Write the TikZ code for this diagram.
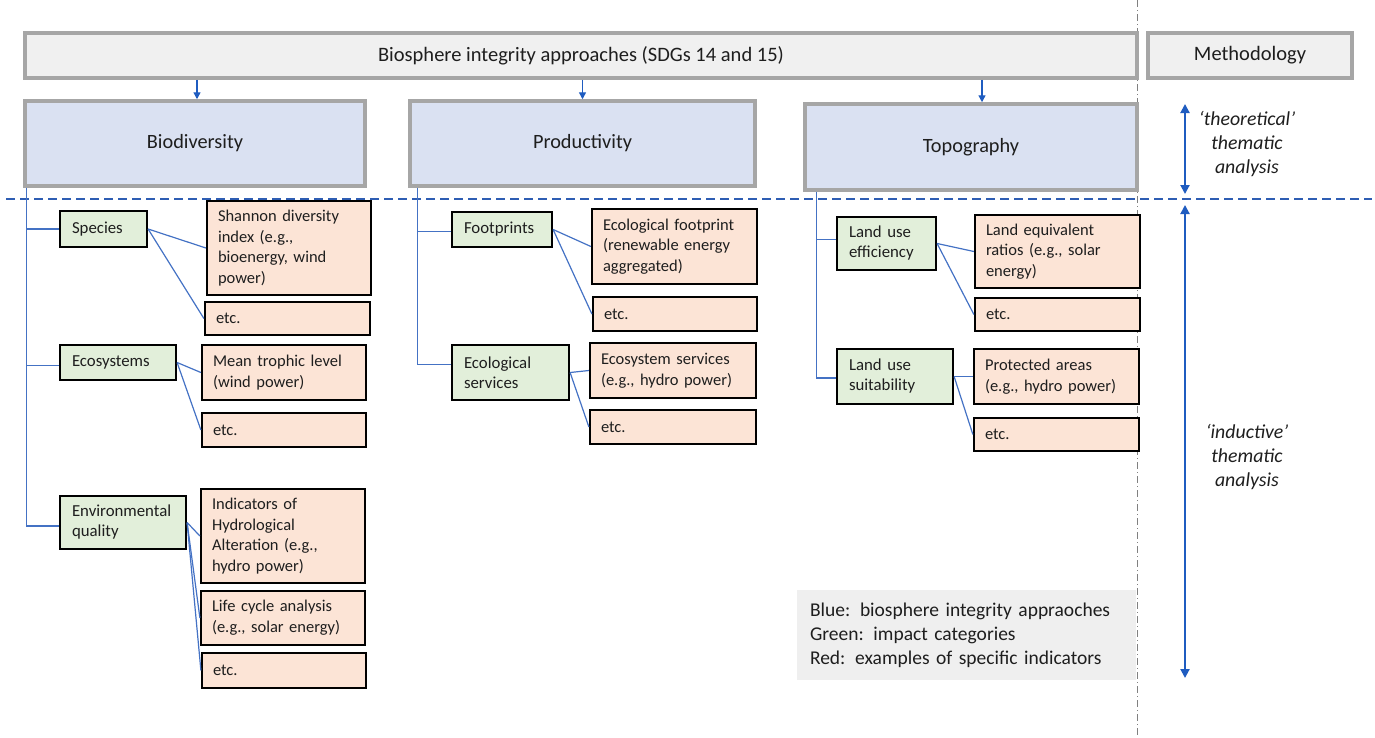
\documentclass[tikz,border=0pt]{standalone}
\usepackage{fontspec}
\setmainfont{Carlito}
\usetikzlibrary{arrows.meta}
\definecolor{grayb}{HTML}{A6A6A6}
\definecolor{hdrfill}{HTML}{F0F0F0}
\definecolor{bluefill}{HTML}{DAE1F2}
\definecolor{greenfill}{HTML}{E2EFDA}
\definecolor{redfill}{HTML}{FCE4D6}
\definecolor{conblue}{HTML}{4472C4}
\definecolor{arrblue}{HTML}{1F5CC0}
\definecolor{dashblue}{HTML}{2E5DB3}
\definecolor{legfill}{HTML}{EFEFEF}
\definecolor{txt}{HTML}{1E1E1E}
\tikzset{
  hdrbox/.style={draw=grayb, line width=3.5pt, fill=hdrfill, text=txt, font=\fontsize{20.5}{24}\selectfont, inner sep=0pt},
  bluebox/.style={draw=grayb, line width=3.5pt, fill=bluefill, text=txt, font=\fontsize{20.3}{24}\selectfont, inner sep=0pt},
  greenbox/.style={draw=black, line width=2.2pt, fill=greenfill, text=txt, font=\fontsize{16.8}{20}\selectfont, align=left, inner xsep=12pt, inner ysep=0pt},
  redbox/.style={draw=black, line width=2.2pt, fill=redfill, text=txt, font=\fontsize{16.5}{20.8}\selectfont, align=left, inner xsep=11pt, inner ysep=0pt},
  conn/.style={draw=conblue, line width=1.2pt},
  trunk/.style={draw=conblue, line width=1.4pt},
  downarr/.style={draw=arrblue, line width=1.4pt, -{Triangle[length=7pt,width=7pt]}},
  dblarr/.style={draw=arrblue, line width=2pt, {Triangle[length=9pt,width=9pt]}-{Triangle[length=9pt,width=9pt]}},
  methtxt/.style={text=txt, font=\fontsize{19.8}{24}\selectfont\itshape, align=center}
}
\begin{document}
\begin{tikzpicture}[x=1pt,y=-1pt]
\useasboundingbox (0,0) rectangle (1375,737);
% separators
\draw[gray, line width=0.9pt, dash pattern=on 7pt off 3pt on 1pt off 3pt] (1137,0) -- (1137,737);
\draw[dashblue, line width=2pt, dash pattern=on 9pt off 5pt] (6,199) -- (1372,199);

% header row
\node[hdrbox, minimum width=1112pt, minimum height=45pt] (hdr) at (581,55.5) {Biosphere integrity approaches (SDGs 14 and 15)};
\node[hdrbox, minimum width=204pt, minimum height=45pt] (meth) at (1250,55.5) {Methodology};

% approaches
\node[bluebox, minimum width=340pt, minimum height=85pt] (bio) at (195,143.5) {Biodiversity};
\node[bluebox, minimum width=345pt, minimum height=85pt] (prod) at (582.5,143.5) {Productivity};
\node[bluebox, minimum width=332pt, minimum height=86pt] (topo) at (971,147) {Topography};

\draw[downarr] ([xshift=2pt]bio.north |- hdr.south) -- ([xshift=2pt]bio.north);
\draw[downarr] (prod.north |- hdr.south) -- (prod.north);
\draw[downarr] ([xshift=11pt]topo.north |- hdr.south) -- ([xshift=11pt]topo.north);

% impact categories
\node[greenbox, minimum width=87pt, minimum height=36pt, text width=63pt] (spec) at (103.5,229) {Species};
\node[greenbox, minimum width=116pt, minimum height=35pt, text width=92pt] (eco) at (118,362.5) {Ecosystems};
\node[greenbox, minimum width=126pt, minimum height=53pt, text width=102pt] (env) at (123,522.5) {Environmental\\quality};
\node[greenbox, minimum width=100pt, minimum height=35pt, text width=76pt] (foot) at (502,229.5) {Footprints};
\node[greenbox, minimum width=117pt, minimum height=55pt, text width=93pt] (esv) at (510.5,372.5) {Ecological\\services};
\node[greenbox, minimum width=99pt, minimum height=53pt, text width=75pt] (lue) at (886.5,243.5) {Land use\\efficiency};
\node[greenbox, minimum width=116pt, minimum height=55pt, text width=92pt] (lus) at (895,376.5) {Land use\\suitability};

% indicators
\node[redbox, minimum width=164pt, minimum height=94pt, text width=142pt] (r1) at (289,248) {Shannon diversity\\index (e.g.,\\bioenergy, wind\\power)};
\node[redbox, minimum width=165pt, minimum height=33pt, text width=143pt] (r2) at (287.5,318.5) {etc.};
\node[redbox, minimum width=164pt, minimum height=55pt, text width=142pt] (r3) at (284,372.5) {Mean trophic level\\(wind power)};
\node[redbox, minimum width=164pt, minimum height=34pt, text width=142pt] (r4) at (284,430) {etc.};
\node[redbox, minimum width=164pt, minimum height=94pt, text width=142pt] (r5) at (283,536) {Indicators of\\Hydrological\\Alteration (e.g.,\\hydro power)};
\node[redbox, minimum width=164pt, minimum height=54pt, text width=142pt] (r6) at (283,618) {Life cycle analysis\\(e.g., solar energy)};
\node[redbox, minimum width=164pt, minimum height=35pt, text width=142pt] (r7) at (284,670.5) {etc.};

\node[redbox, minimum width=165pt, minimum height=75pt, text width=143pt] (p1) at (674.5,246.5) {Ecological footprint\\(renewable energy\\aggregated)};
\node[redbox, minimum width=164pt, minimum height=34pt, text width=142pt] (p2) at (675,314) {etc.};
\node[redbox, minimum width=166pt, minimum height=55pt, text width=144pt] (p3) at (673,370.5) {Ecosystem services\\(e.g., hydro power)};
\node[redbox, minimum width=166pt, minimum height=34pt, text width=144pt] (p4) at (673,427) {etc.};

\node[redbox, minimum width=165pt, minimum height=73pt, text width=143pt] (t1) at (1057.5,251.5) {Land equivalent\\ratios (e.g., solar\\energy)};
\node[redbox, minimum width=165pt, minimum height=33pt, text width=143pt] (t2) at (1057.5,314.5) {etc.};
\node[redbox, minimum width=165pt, minimum height=55pt, text width=143pt] (t3) at (1056.5,376.5) {Protected areas\\(e.g., hydro power)};
\node[redbox, minimum width=165pt, minimum height=33pt, text width=143pt] (t4) at (1056.5,434.5) {etc.};

% trunks
\draw[trunk] ([xshift=3pt]bio.south west) |- (spec.west);
\draw[trunk] ([xshift=3pt]bio.south west) |- ([yshift=-3pt]eco.west);
\draw[trunk] ([xshift=3pt]bio.south west) |- ([yshift=-3.5pt]env.west);
\draw[trunk] ([xshift=9pt]prod.south west) |- ([yshift=-2pt]foot.west);
\draw[trunk] ([xshift=9pt]prod.south west) |- ([yshift=8pt]esv.west);
\draw[trunk] ([xshift=13pt]topo.south west) |- ([yshift=4pt]lue.west);
\draw[trunk] ([xshift=13pt]topo.south west) |- ([yshift=-1.5pt]lus.west);

% connectors
\draw[conn] (spec.east) -- (r1.west);
\draw[conn] (spec.east) -- (r2.west);
\draw[conn] (eco.east) -- (r3.west);
\draw[conn] (eco.east) -- (r4.west);
\draw[conn] (env.east) -- (r5.west);
\draw[conn] (env.east) -- (r6.west);
\draw[conn] (env.east) -- (r7.west);
\draw[conn] (foot.east) -- (p1.west);
\draw[conn] (foot.east) -- (p2.west);
\draw[conn] (esv.east) -- (p3.west);
\draw[conn] (esv.east) -- (p4.west);
\draw[conn] (lue.east) -- (t1.west);
\draw[conn] (lue.east) -- (t2.west);
\draw[conn] (lus.east) -- (t3.west);
\draw[conn] (lus.east) -- (t4.west);

% methodology
\coordinate (a1) at (1185,104);
\coordinate (a2) at (1185,194);
\coordinate (a3) at (1185,205);
\coordinate (a4) at (1185,678);
\draw[dblarr] (a1) -- (a2);
\draw[dblarr] (a3) -- (a4);
\node[methtxt] (theo) at (1247,144) {‘theoretical’\\thematic\\analysis};
\node[methtxt] (induc) at (1247,457) {‘inductive’\\thematic\\analysis};

% legend
\node[fill=legfill, minimum width=339pt, minimum height=90pt, text width=313pt, inner xsep=13pt, align=left, text=txt, font=\fontsize{19.5}{24}\selectfont] (leg) at (966.5,635) {Blue: biosphere integrity appraoches\\Green: impact categories\\Red: examples of specific indicators};
\end{tikzpicture}
\end{document}
